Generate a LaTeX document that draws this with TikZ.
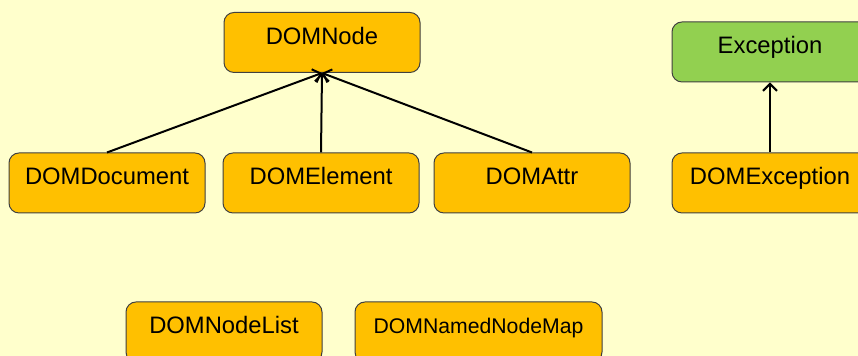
\documentclass[tikz,border=0pt]{standalone}
\usepackage{fontspec}
\setmainfont{Liberation Sans}
\usepackage{tikz}
\usetikzlibrary{arrows.meta}
\definecolor{bgyellow}{HTML}{FFFFCC}
\definecolor{classorange}{HTML}{FFC000}
\definecolor{classgreen}{HTML}{92D050}
\tikzstyle{classbox} = [draw=black!75, fill=classorange, line width=0.5pt,
    rectangle, rounded corners=5pt, inner sep=0pt, minimum width=98pt,
    text height=15.8pt, text depth=14.2pt, font=\fontsize{11.9}{14}\selectfont]
\tikzstyle{inherit} = [line width=1pt, -{Straight Barb[length=3.5pt,width=7pt]}]

\begin{document}
\begin{tikzpicture}[x=1pt,y=1pt]
    \useasboundingbox (0,0) rectangle (429,178);
    \clip (0,0) rectangle (429,178);
    \fill[bgyellow] (0,0) rectangle (429,178);

    \node [classbox] (domnode) at (161,156.75) {DOMNode};
    \node [classbox] (domdocument) at (53.5,86.5) {DOMDocument};
    \node [classbox] (domelement) at (160.5,86.5) {DOMElement};
    \node [classbox] (domattr) at (266,86.5) {DOMAttr};
    \node [classbox, fill=classgreen] (exception) at (385,152) {Exception};
    \node [classbox] (domexception) at (385,86.5) {DOMException};
    \node [classbox] (domnodelist) at (112,12) {DOMNodeList};
    \node [classbox, minimum width=123.5pt, font=\fontsize{10.6}{13}\selectfont] (domnamednodemap) at (239.25,12) {DOMNamedNodeMap};

    \draw [inherit] (domdocument.north) -- (domnode.south);
    \draw [inherit] (domelement.north) -- (domnode.south);
    \draw [inherit] (domattr.north) -- (domnode.south);
    \draw [inherit] (domexception.north) -- (exception.south);
\end{tikzpicture}
\end{document}
